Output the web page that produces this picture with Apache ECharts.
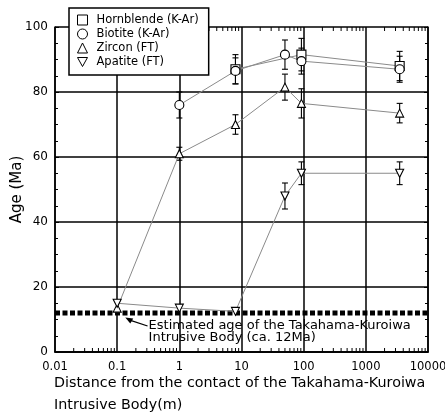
<!DOCTYPE html>
<html>
<head>
<meta charset="utf-8">
<script src="https://cdn.jsdelivr.net/npm/echarts@6/dist/echarts.min.js"></script>
<style>html,body{margin:0;padding:0;background:#fff}#chart{width:445px;height:412px}</style>
</head>
<body>
<div id="chart"></div>
<script>
// Distance (m) from the intrusive contact and measured ages (Ma) with 1-sigma errors
const hornblendeDist = [8, 92, 3500];
const hornblendeAge  = [87, 91.5, 88];
const hornblendeErr  = [4.5, 5, 4.5];

const biotiteDist = [1, 8, 50, 92, 3500];
const biotiteAge  = [76, 86.5, 91.5, 89.5, 87];
const biotiteErr  = [4, 4, 4.5, 4, 4];

const zirconDist = [0.1, 1, 8, 50, 92, 3500];
const zirconAge  = [13.5, 61, 70, 81.5, 76.5, 73.5];
const zirconErr  = [0, 2, 3, 4, 4.5, 3];

const apatiteDist = [0.1, 1, 8, 50, 92, 3500];
const apatiteAge  = [15, 13.5, 12.5, 48, 55, 55];
const apatiteErr  = [0, 0, 0, 4, 3.5, 3.5];

const intrusionAge = 12;
const xTickLabels = ['0.01', '0.1', '1', '10', '100', '1000', '10000'];
const yTickLabels = ['0', '20', '40', '60', '80', '100'];

const FONT = 'DejaVu Sans';
const chart = echarts.init(document.getElementById('chart'));

function pairs(xs, ys) { return xs.map((x, i) => [x, ys[i]]); }
function errRows(xs, ys, es) {
  return xs.map((x, i) => [x, ys[i] - es[i], ys[i] + es[i]]).filter(r => r[2] > r[1]);
}

// log-spaced minor tick positions (2..9 in each decade)
const minorX = [];
for (let e = -2; e < 4; e++) for (let m = 2; m <= 9; m++) minorX.push(+(m * Math.pow(10, e)).toPrecision(6));

const hollow = { color: '#fff', borderColor: '#000', borderWidth: 1.1 };
const grayLine = { color: '#8a8a8a', width: 1 };
const downTri = 'path://M0,0 L10,0 L5,9 Z';

function errorSeries(rows) {
  return {
    type: 'custom', z: 3, silent: true,
    data: rows,
    renderItem(params, api) {
      const top = api.coord([api.value(0), api.value(2)]);
      const bot = api.coord([api.value(0), api.value(1)]);
      const c = 3;
      const st = { stroke: '#000', lineWidth: 1.1 };
      return { type: 'group', children: [
        { type: 'line', shape: { x1: top[0], y1: top[1], x2: bot[0], y2: bot[1] }, style: st },
        { type: 'line', shape: { x1: top[0] - c, y1: top[1], x2: top[0] + c, y2: top[1] }, style: st },
        { type: 'line', shape: { x1: bot[0] - c, y1: bot[1], x2: bot[0] + c, y2: bot[1] }, style: st }
      ]};
    }
  };
}

function dataSeries(name, xs, ys, symbol, size) {
  return {
    name, type: 'line', z: 4, data: pairs(xs, ys),
    symbol, symbolSize: size,
    lineStyle: grayLine, itemStyle: hollow, showSymbol: true,
    emphasis: { disabled: true }
  };
}

const option = {
  animation: false,
  title: {
    text: 'Distance from the contact of the Takahama-Kuroiwa\nIntrusive Body(m)',
    left: 54, top: 372, padding: 0,
    textStyle: { color: '#000', fontFamily: FONT, fontSize: 14.3, fontWeight: 'normal', lineHeight: 22 }
  },
  grid: { left: 55, right: 17, top: 27, bottom: 60, containLabel: false, outerBoundsMode: 'none' },
  xAxis: [{
    type: 'log', logBase: 10, min: 0.01, max: 10000, interval: 1,
    axisLine: { lineStyle: { color: '#000', width: 1.5 } },
    axisTick: { show: false },
    splitLine: { show: true, lineStyle: { color: '#000', width: 1.5 } },
    axisLabel: {
      color: '#000', fontFamily: FONT, fontSize: 11.5, margin: 9, hideOverlap: false,
      showMinLabel: true, showMaxLabel: true,
      formatter: v => xTickLabels.find(t => Math.abs(Math.log10(+t) - Math.log10(v)) < 1e-6) || ''
    }
  }, {
    type: 'log', logBase: 10, min: 0.01, max: 10000, interval: 1, position: 'top',
    axisLine: { lineStyle: { color: '#000', width: 1.5 } },
    axisTick: { show: false }, axisLabel: { show: false }, splitLine: { show: false }
  }],
  yAxis: [{
    type: 'value', min: 0, max: 100, interval: 20,
    axisLine: { show: true, lineStyle: { color: '#000', width: 1.5 } },
    axisTick: { show: true, inside: true, length: 4, lineStyle: { color: '#000' } },
    minorTick: { show: true, splitNumber: 4, length: 3, lineStyle: { color: '#000' } },
    splitLine: { show: true, lineStyle: { color: '#000', width: 1.5 } },
    axisLabel: {
      color: '#000', fontFamily: FONT, fontSize: 12, margin: 7,
      formatter: v => yTickLabels.includes(String(v)) ? String(v) : ''
    },
    name: 'Age (Ma)', nameLocation: 'middle', nameGap: 30, nameRotate: 90, nameMoveOverlap: false,
    nameTextStyle: { color: '#000', fontFamily: FONT, fontSize: 15 }
  }, {
    type: 'value', min: 0, max: 100, interval: 20, position: 'right',
    axisLine: { show: true, lineStyle: { color: '#000', width: 1.5 } },
    axisTick: { show: true, inside: true, length: 4, lineStyle: { color: '#000' } },
    minorTick: { show: true, splitNumber: 4, length: 3, lineStyle: { color: '#000' } },
    splitLine: { show: false }, axisLabel: { show: false }
  }],
  legend: {
    orient: 'vertical', left: 69, top: 8,
    backgroundColor: '#fff', borderColor: '#000', borderWidth: 1.5, borderRadius: 0,
    padding: [6, 10, 7, 8], itemGap: 2, itemWidth: 10, itemHeight: 10,
    itemStyle: { color: '#fff', borderColor: '#000', borderWidth: 1 },
    textStyle: { color: '#000', fontFamily: FONT, fontSize: 11.5, padding: [0, 0, 0, 4] },
    data: [
      { name: 'Hornblende (K-Ar)', icon: 'rect' },
      { name: 'Biotite (K-Ar)', icon: 'circle' },
      { name: 'Zircon (FT)', icon: 'triangle' },
      { name: 'Apatite (FT)', icon: downTri }
    ]
  },
  series: [
    // logarithmic minor ticks along the bottom and top frame
    {
      type: 'custom', silent: true, z: 2,
      data: minorX.map(x => [x]),
      renderItem(params, api) {
        const b = api.coord([api.value(0), 0]);
        const t = api.coord([api.value(0), 100]);
        const st = { stroke: '#000', lineWidth: 1 };
        return { type: 'group', children: [
          { type: 'line', shape: { x1: b[0], y1: b[1], x2: b[0], y2: b[1] - 4 }, style: st },
          { type: 'line', shape: { x1: t[0], y1: t[1], x2: t[0], y2: t[1] + 4 }, style: st }
        ]};
      }
    },
    // estimated age of the intrusion
    {
      type: 'line', silent: true, z: 2, symbol: 'none',
      data: [[0.01, intrusionAge], [10000, intrusionAge]],
      lineStyle: { color: '#000', width: 5, type: [5, 2.5] }
    },
    // annotation text with arrow
    {
      type: 'custom', silent: true, z: 5,
      data: [[0.32, intrusionAge]],
      renderItem(params, api) {
        const p = api.coord([api.value(0), api.value(1)]);
        const tip = api.coord([0.135, intrusionAge - 0.8]);
        return { type: 'group', children: [
          { type: 'line', shape: { x1: p[0] - 1, y1: p[1] + 13, x2: tip[0] + 3, y2: tip[1] + 4 }, style: { stroke: '#000', lineWidth: 1.3 } },
          { type: 'polygon', shape: { points: [[tip[0], tip[1] + 2], [tip[0] + 8, tip[1] + 3], [tip[0] + 5, tip[1] + 8]] }, style: { fill: '#000' } },
          { type: 'text', x: p[0], y: p[1] + 7, style: {
              text: 'Estimated age of the Takahama-Kuroiwa\nIntrusive Body (ca. 12Ma)',
              fill: '#000', font: '13px "DejaVu Sans"', lineHeight: 11.5, textVerticalAlign: 'top'
          } }
        ]};
      }
    },
    errorSeries(errRows(hornblendeDist, hornblendeAge, hornblendeErr)),
    errorSeries(errRows(biotiteDist, biotiteAge, biotiteErr)),
    errorSeries(errRows(zirconDist, zirconAge, zirconErr)),
    errorSeries(errRows(apatiteDist, apatiteAge, apatiteErr)),
    dataSeries('Hornblende (K-Ar)', hornblendeDist, hornblendeAge, 'rect', 9),
    dataSeries('Biotite (K-Ar)', biotiteDist, biotiteAge, 'circle', 9),
    dataSeries('Zircon (FT)', zirconDist, zirconAge, 'triangle', 8),
    dataSeries('Apatite (FT)', apatiteDist, apatiteAge, downTri, 8)
  ]
};
chart.setOption(option);
</script>
</body>
</html>
